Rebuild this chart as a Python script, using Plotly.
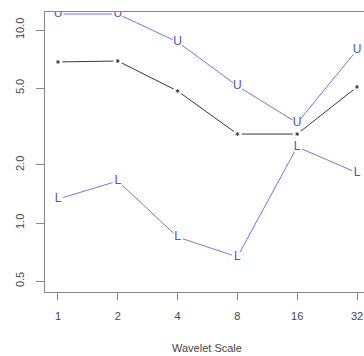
import math
import plotly.graph_objects as go

scales = [1, 2, 4, 8, 16, 32]
upper = [12.1, 12.1, 8.67, 5.13, 3.30, 7.87]
estimate = [6.83, 6.91, 4.83, 2.89, 2.89, 5.07]
lower = [1.33, 1.65, 0.846, 0.667, 2.48, 1.82]

x_ticks = [1, 2, 4, 8, 16, 32]
x_ticktext = ["1", "2", "4", "8", "16", "32"]
y_ticks = [0.5, 1, 2, 5, 10]
y_ticktext = ["0.5", "1.0", "2.0", "5.0", "10.0"]

blue_line = "rgba(95,95,215,0.85)"
blue_text = "#5050c8"
black_line = "#3a3a3a"
axis_text = "#454545"

fig = go.Figure()

# lines
for ys, col in [(upper, blue_line), (estimate, black_line), (lower, blue_line)]:
    fig.add_trace(go.Scatter(x=scales, y=ys, mode="lines",
                             line=dict(color=col, width=1), showlegend=False,
                             hoverinfo="skip"))

# white gaps around points (type="b" look)
for ys, sz in [(upper, 11), (estimate, 9), (lower, 11)]:
    fig.add_trace(go.Scatter(x=scales, y=ys, mode="markers",
                             marker=dict(color="white", size=sz, symbol="circle"),
                             showlegend=False, hoverinfo="skip"))

# point glyphs
for ys, ch in [(upper, "U"), (lower, "L")]:
    fig.add_trace(go.Scatter(x=scales, y=ys, mode="text", text=[ch] * len(ys),
                             textposition="middle center",
                             textfont=dict(family="Liberation Sans", size=12, color=blue_text),
                             showlegend=False, hoverinfo="skip"))
fig.add_trace(go.Scatter(x=scales, y=estimate, mode="markers",
                         marker=dict(symbol="asterisk-open", size=3, color=black_line,
                                     line=dict(color=black_line, width=1)),
                         showlegend=False, hoverinfo="skip"))

x_left = math.log10(2 ** -0.217)
x_right = math.log10(2 ** 5.117)

fig.update_layout(
    width=364, height=356,
    margin=dict(l=45, r=0, t=12, b=64),
    paper_bgcolor="white", plot_bgcolor="white",
    font=dict(family="Liberation Sans", size=11, color=axis_text),
    xaxis=dict(type="log", range=[x_left, x_right],
               tickvals=x_ticks, ticktext=x_ticktext,
               showgrid=False, zeroline=False,
               showline=True, linecolor="#888", linewidth=1, mirror=True,
               ticks="outside", ticklen=7, tickcolor="#888", tickwidth=1,
               ticklabelstandoff=7,
               tickfont=dict(family="Liberation Sans", size=11, color=axis_text)),
    yaxis=dict(type="log", range=[-0.3575, 1.0933],
               tickvals=y_ticks, ticktext=y_ticktext,
               showgrid=False, zeroline=False,
               showline=True, linecolor="#888", linewidth=1, mirror=False,
               ticks="outside", ticklen=8, tickcolor="#888", tickwidth=1,
               tickangle=-90, ticklabelstandoff=8,
               tickfont=dict(family="Liberation Sans", size=11, color=axis_text)),
    annotations=[dict(text="Wavelet Scale", xref="paper", yref="paper",
                      x=(207 - 45) / 319, y=(292 - 348) / 280,
                      xanchor="center", yanchor="middle", showarrow=False,
                      font=dict(family="Liberation Sans", size=11, color=axis_text))],
)

fig.write_html("out.html")
